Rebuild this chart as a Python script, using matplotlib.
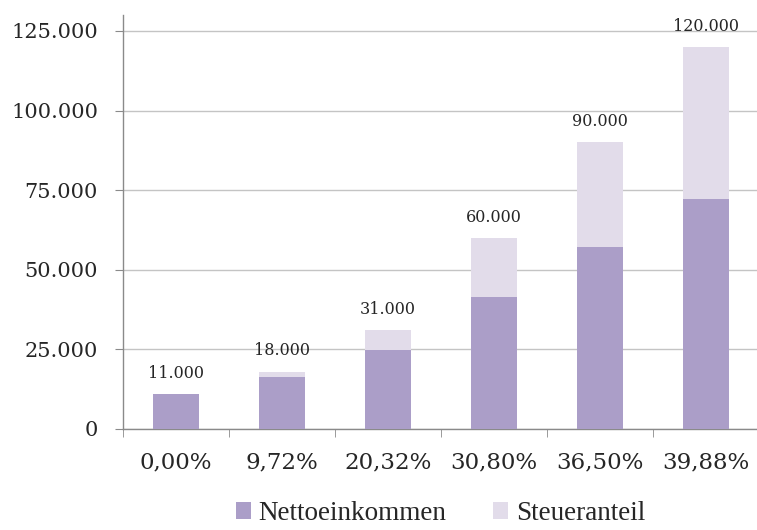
import matplotlib.pyplot as plt
import numpy as np

# Steuersatz-Kategorien, Bruttoeinkommen und Nettoanteil
kategorien = ['0,00%', '9,72%', '20,32%', '30,80%', '36,50%', '39,88%']
brutto = [11000, 18000, 31000, 60000, 90000, 120000]
netto = [11000, 16250, 24700, 41500, 57150, 72150]
steuer = [b - n for b, n in zip(brutto, netto)]

farbe_netto = '#ab9ec8'
farbe_steuer = '#e2dcea'
textfarbe = '#262626'

plt.rcParams['font.family'] = ['DejaVu Serif']

fig = plt.figure(figsize=(7.57, 5.30), dpi=100)
ax = fig.add_axes([0.1625, 0.1906, 0.840, 0.7811])

x = np.arange(len(kategorien))
ax.bar(x, netto, width=0.44, color=farbe_netto, label='Nettoeinkommen', zorder=3)
ax.bar(x, steuer, width=0.44, bottom=netto, color=farbe_steuer, label='Steueranteil', zorder=3)

for xi, b in zip(x, brutto):
    ax.annotate(f'{b:,}'.replace(',', '.'), (xi, b), xytext=(0, 15), textcoords='offset points',
                ha='center', va='center', fontsize=11.5, color=textfarbe)

ax.set_xlim(-0.5, len(kategorien) - 0.5)
ax.set_ylim(0, 130000)
ax.set_yticks(np.arange(0, 125001, 25000))
ax.set_yticklabels([f'{v:,}'.replace(',', '.') for v in range(0, 125001, 25000)])
ax.set_xticks(x)
ax.set_xticklabels(kategorien)
ax.set_xticks(np.arange(-0.5, len(kategorien)), minor=True)

ax.yaxis.grid(True, color='#c4c4c4', linewidth=1.0, zorder=0)
ax.set_axisbelow(True)
for s in ['top', 'right']:
    ax.spines[s].set_visible(False)
for s in ['left', 'bottom']:
    ax.spines[s].set_color('#8a8a8a')
    ax.spines[s].set_linewidth(1.0)

ax.tick_params(axis='y', length=6, color='#8a8a8a', labelsize=15, labelcolor=textfarbe, pad=12)
ax.tick_params(axis='x', which='major', length=0, labelsize=16.5, labelcolor=textfarbe, pad=16)
ax.tick_params(axis='x', which='minor', length=6, color='#8a8a8a')

fig.legend(loc='center', bbox_to_anchor=(0.582, 0.031), ncol=2, frameon=False,
           prop={'family': 'Liberation Serif', 'size': 19.5}, handlelength=0.55, handleheight=0.55,
           handletextpad=0.29, columnspacing=1.73, borderpad=0, labelcolor=textfarbe)

fig.savefig('out.png', dpi=100)
